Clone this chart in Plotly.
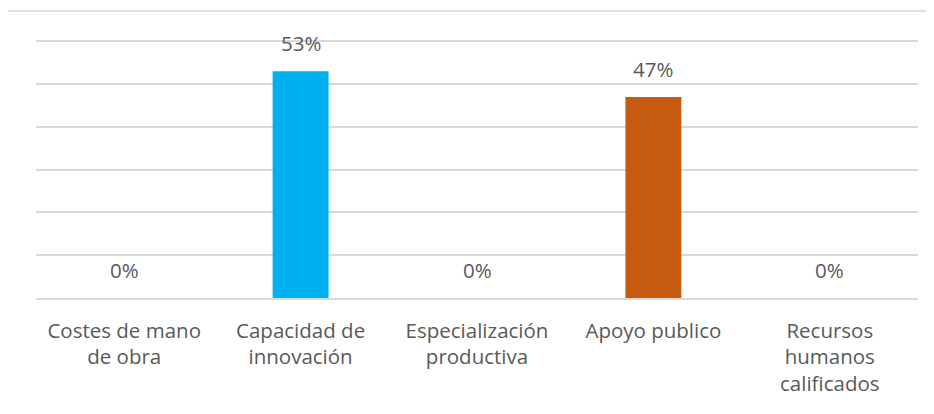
import plotly.graph_objects as go

# ── Data ───────────────────────────────────────────────────────────────────────

categories = [
    "Costes de mano<br>de obra",
    "Capacidad de<br>innovación",
    "Especialización<br>productiva",
    "Apoyo publico",
    "Recursos<br>humanos<br>calificados",
]
shares = [0.0, 0.53, 0.0, 0.47, 0.0]
bar_colors = ["#00B0F0", "#00B0F0", "#00B0F0", "#C55A11", "#C55A11"]

TEXT = "#595959"
GRID = "#D9D9D9"
FONT = "Open Sans"
SIZE = 20.5

# ── Figure ─────────────────────────────────────────────────────────────────────

fig = go.Figure()
fig.add_trace(go.Bar(
    x=categories, y=shares,
    marker=dict(color=bar_colors, line=dict(width=0)),
    hovertemplate="%{x}: %{y:.0%}<extra></extra>",
))

for cat, val in zip(categories, shares):
    fig.add_annotation(
        x=cat, y=val, text=f"{val:.0%}", showarrow=False,
        yanchor="bottom", yshift=12,
        font=dict(family=FONT, size=SIZE, color=TEXT),
    )

# chart frame (only top and left edges show in the crop)
fig.add_shape(type="line", xref="paper", yref="paper",
              x0=-0.033, x1=1.1, y0=1.1, y1=1.1,
              line=dict(color=GRID, width=1.5))
fig.add_shape(type="line", xref="paper", yref="paper",
              x0=-0.033, x1=-0.033, y0=1.1, y1=-0.6,
              line=dict(color=GRID, width=1.5))

# page body keeps its default 8px margin, so the figure is 8px smaller
fig.update_layout(
    width=926, height=406,
    paper_bgcolor="white", plot_bgcolor="white",
    font=dict(family=FONT, size=SIZE, color=TEXT),
    margin=dict(l=28, r=16, t=29, b=116),
    bargap=0.683,
    showlegend=False,
)
fig.update_xaxes(
    showgrid=False, showline=True, linecolor=GRID, linewidth=2,
    ticks="", ticklabelstandoff=13,
    tickfont=dict(family=FONT, size=SIZE, color=TEXT),
)
# a little headroom so the 60% gridline is not dropped at the plot edge
fig.update_yaxes(
    range=[0, 0.61], dtick=0.1, showgrid=True, gridcolor=GRID, gridwidth=2,
    showticklabels=False, zeroline=False, showline=False,
)

fig.write_html("out.html")
